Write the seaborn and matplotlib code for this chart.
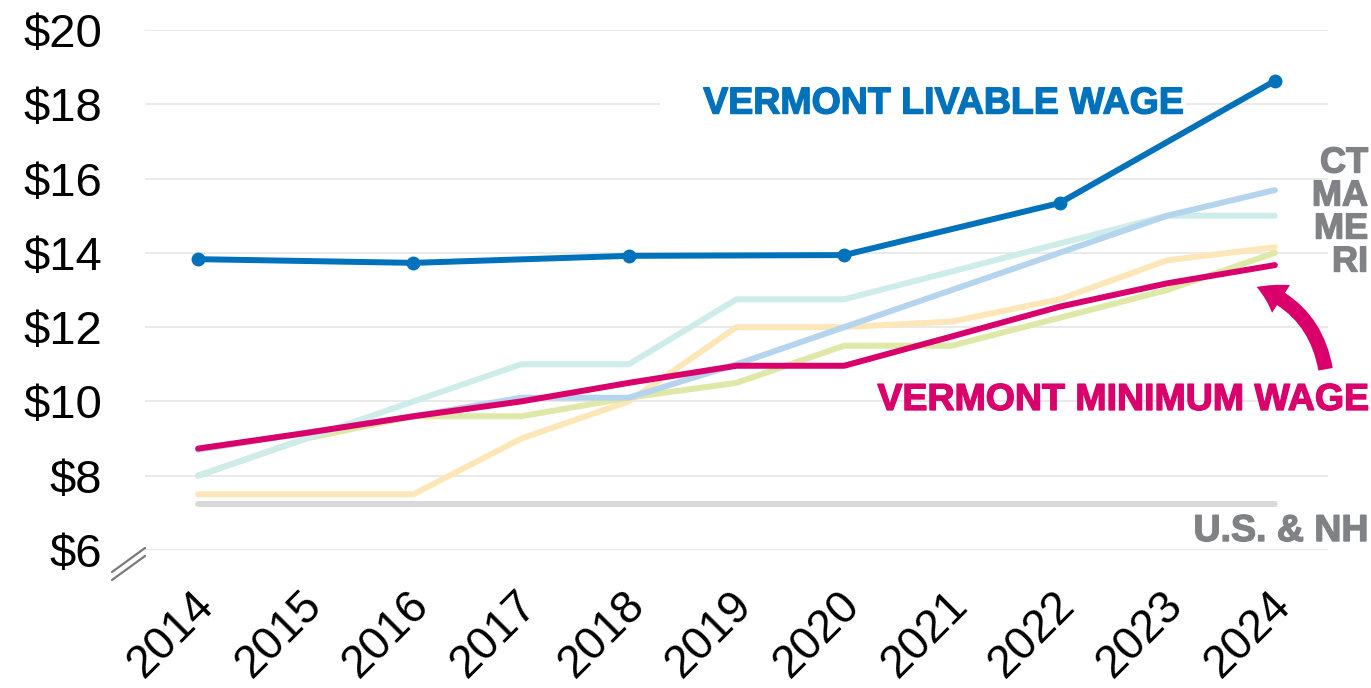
import matplotlib.pyplot as plt
import pandas as pd
import seaborn as sns
from matplotlib.patches import FancyArrowPatch
from matplotlib.lines import Line2D
import matplotlib.patheffects as pe
import matplotlib.transforms as mtransforms

# data
years = list(range(2014, 2025))
livable_years = [2014, 2016, 2018, 2020, 2022, 2024]
vt_livable = [13.83, 13.73, 13.92, 13.94, 15.34, 18.63]
vt_minimum = [8.73, 9.15, 9.60, 10.00, 10.50, 10.96, 10.96, 11.75, 12.55, 13.18, 13.67]
us_nh = [7.25] * 11
ct = [8.70, 9.15, 9.60, 10.10, 10.10, 11.00, 12.00, 13.00, 14.00, 15.00, 15.69]
ma = [8.00, 9.00, 10.00, 11.00, 11.00, 12.75, 12.75, 13.50, 14.25, 15.00, 15.00]
me = [7.50, 7.50, 7.50, 9.00, 10.00, 12.00, 12.00, 12.15, 12.75, 13.80, 14.15]
ri = [8.00, 9.00, 9.60, 9.60, 10.10, 10.50, 11.50, 11.50, 12.25, 13.00, 14.00]
y_ticks = [6, 8, 10, 12, 14, 16, 18, 20]
state_labels = ['CT', 'MA', 'ME', 'RI']

df_states = pd.DataFrame({'year': years, 'US & NH': us_nh, 'ME': me, 'RI': ri,
                          'MA': ma, 'CT': ct, 'VT minimum': vt_minimum})
df_long = df_states.melt(id_vars='year', var_name='series', value_name='wage')
df_livable = pd.DataFrame({'year': livable_years, 'wage': vt_livable})

colors = {'US & NH': '#d9d9d9', 'ME': '#fde7b8', 'RI': '#dfe8a6',
          'MA': '#cdecea', 'CT': '#b5d5ee', 'VT minimum': '#d9006c'}
blue = '#0072bc'
magenta = '#d9006c'
label_gray = '#808285'

sns.set_theme(style='white')
plt.rcParams['font.family'] = ['Liberation Sans', 'DejaVu Sans']

fig = plt.figure(figsize=(13.71, 6.88), dpi=100)
ax = fig.add_axes([0.1058, 0.2006, 0.8628, 0.7558])

for i, name in enumerate(['US & NH', 'ME', 'RI', 'MA', 'CT', 'VT minimum']):
    sub = df_long[df_long['series'] == name]
    sns.lineplot(data=sub, x='year', y='wage', ax=ax, color=colors[name],
                 lw=4.3, solid_capstyle='round', zorder=3 + i, legend=False)

sns.lineplot(data=df_livable, x='year', y='wage', ax=ax, color=blue, lw=4.3,
             marker='o', markersize=10, markeredgewidth=0, zorder=12,
             solid_capstyle='round')

ax.set_xlim(2013.507, 2024.493)
ax.set_ylim(6, 20)
ax.set_yticks(y_ticks)
ax.set_yticklabels([f'${v}' for v in y_ticks])
ax.set_xticks(years)
ax.set_xticklabels([str(y) for y in years], rotation=45, ha='right', va='center',
                   rotation_mode='anchor')
ax.tick_params(axis='y', labelsize=34, pad=31, length=0, labelcolor='black')
ax.tick_params(axis='x', labelsize=33, pad=35, length=0, labelcolor='black')
shift = mtransforms.ScaledTranslation(9 / 100, 0, fig.dpi_scale_trans)
for lbl in ax.get_xticklabels():
    lbl.set_transform(lbl.get_transform() + shift)
ax.set_xlabel('')
ax.set_ylabel('')
ax.grid(axis='y', color='#e6e6e6', lw=1.2)
ax.grid(axis='x', visible=False)
ax.set_axisbelow(True)
for s in ax.spines.values():
    s.set_visible(False)

# labels
heavy = lambda c: [pe.withStroke(linewidth=1.0, foreground=c)]
ax.text(2023.15, 18.02, '    VERMONT LIVABLE WAGE', color=blue, fontsize=27,
        fontweight='bold', ha='right', va='center', zorder=2,
        path_effects=heavy(blue),
        bbox=dict(facecolor='white', edgecolor='none', pad=1))
ax.text(2024.87, 10.04, 'VERMONT MINIMUM WAGE', color=magenta, fontsize=27,
        fontweight='bold', ha='right', va='center', zorder=20,
        path_effects=heavy(magenta), clip_on=False)
for k, lab in enumerate(state_labels):
    fig.text(1368 / 1371, 1 - (163 + 33 * k) / 688, lab, color=label_gray,
             fontsize=26, fontweight='bold', ha='right', va='center',
             path_effects=heavy(label_gray))
fig.text(1368 / 1371, 1 - 531 / 688, 'U.S. & NH', color=label_gray, fontsize=27,
         fontweight='bold', ha='right', va='center', path_effects=heavy(label_gray))

# curved arrow to the minimum wage line
arrow = FancyArrowPatch((1326 / 1371, 1 - 372 / 688), (1254 / 1371, 1 - 286 / 688),
                        transform=fig.transFigure, connectionstyle='arc3,rad=0.3',
                        arrowstyle='simple,head_width=1.7,head_length=1.4,tail_width=0.75',
                        mutation_scale=14, color=magenta, lw=0)
fig.add_artist(arrow)

# axis break marks
for dy in (0, 8):
    fig.add_artist(Line2D([112 / 1371, 145 / 1371],
                          [1 - (572 + dy) / 688, 1 - (548 + dy) / 688],
                          transform=fig.transFigure, color='#7a7a7a', lw=1.6))

fig.savefig('out.png', dpi=100)
